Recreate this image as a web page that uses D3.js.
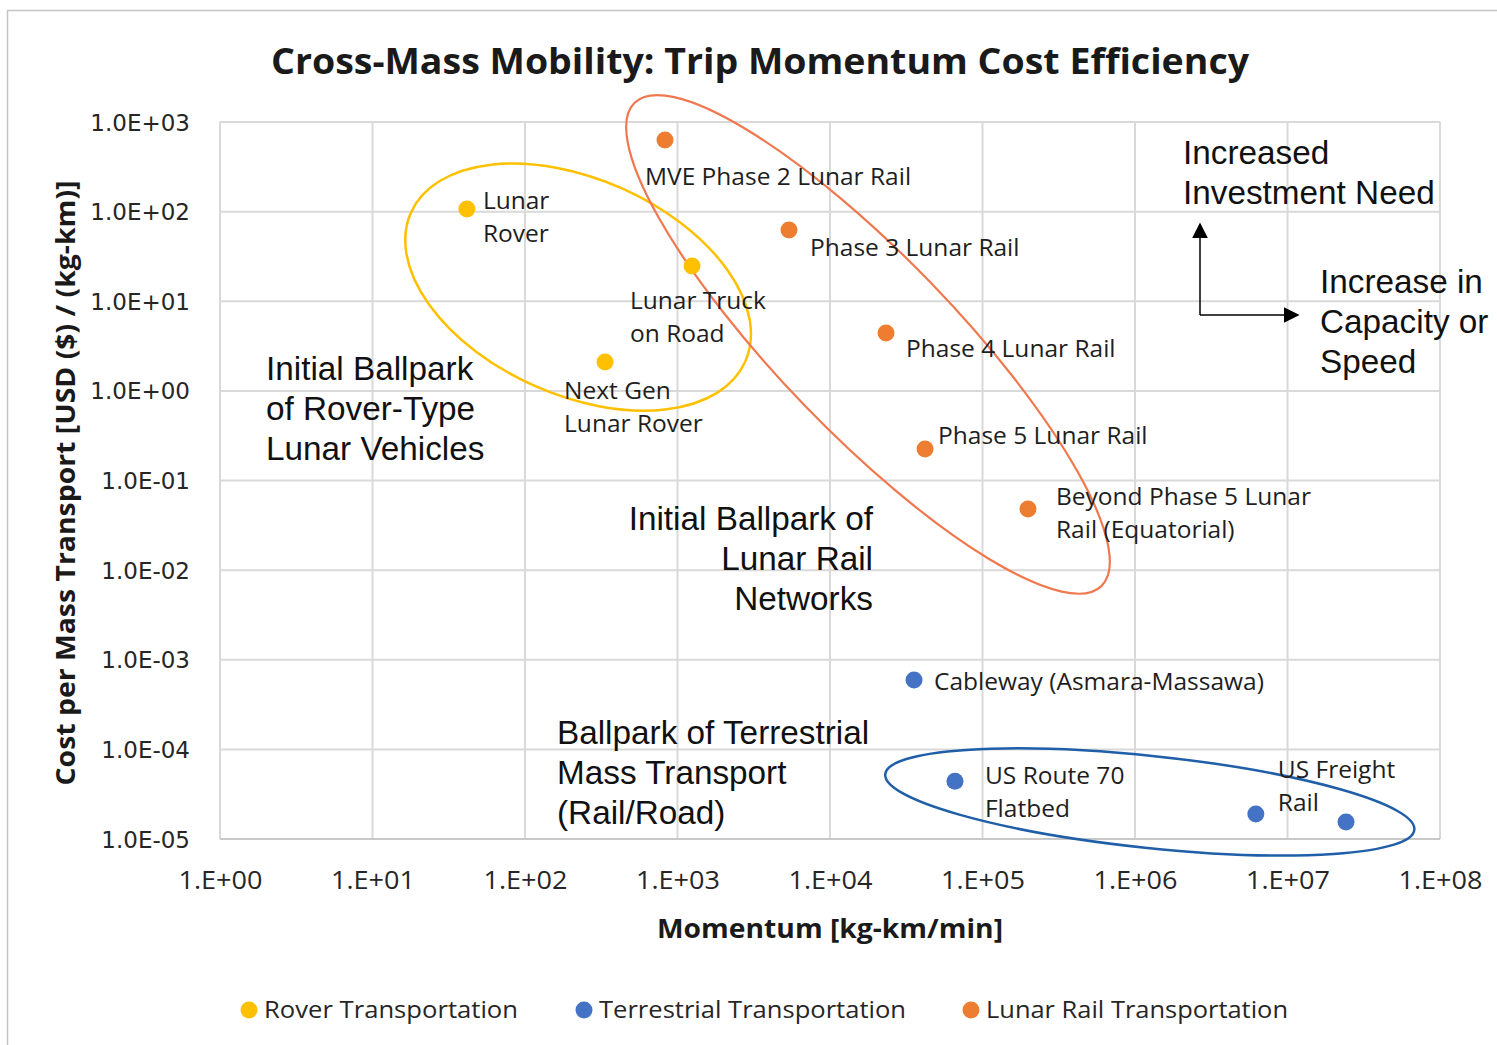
<!DOCTYPE html>
<html>
<head>
<meta charset="utf-8">
<script src="https://cdn.jsdelivr.net/npm/d3@7"></script>
<style>
  html, body { margin: 0; padding: 0; background: #ffffff; }
  svg { display: block; }
</style>
</head>
<body>
<script>
// ---------------- DATA ----------------
const roverNames = ["Lunar Rover", "Lunar Truck on Road", "Next Gen Lunar Rover"];
const roverMomentum = [41.6, 1245, 335];
const roverCost = [107, 24.7, 2.1];

const terrNames = ["Cableway (Asmara-Massawa)", "US Route 70 Flatbed", "US Freight Rail", "US Freight Rail (long haul)"];
const terrMomentum = [35560, 66000, 6.2e6, 2.42e7];
const terrCost = [5.94e-4, 4.4e-5, 1.9e-5, 1.55e-5];

const railNames = ["MVE Phase 2 Lunar Rail", "Phase 3 Lunar Rail", "Phase 4 Lunar Rail", "Phase 5 Lunar Rail", "Beyond Phase 5 Lunar Rail (Equatorial)"];
const railMomentum = [828, 5385, 23300, 42000, 198700];
const railCost = [630, 62.4, 4.42, 0.224, 0.048];

const seriesNames = ["Rover Transportation", "Terrestrial Transportation", "Lunar Rail Transportation"];

const xTickValues = [1e0, 1e1, 1e2, 1e3, 1e4, 1e5, 1e6, 1e7, 1e8];
const xTickLabels = ["1.E+00", "1.E+01", "1.E+02", "1.E+03", "1.E+04", "1.E+05", "1.E+06", "1.E+07", "1.E+08"];
const yTickValues = [1e3, 1e2, 1e1, 1e0, 1e-1, 1e-2, 1e-3, 1e-4, 1e-5];
const yTickLabels = ["1.0E+03", "1.0E+02", "1.0E+01", "1.0E+00", "1.0E-01", "1.0E-02", "1.0E-03", "1.0E-04", "1.0E-05"];

// grouping ellipse centres (data coordinates)
const groupCentreMomentum = [223, 17750, 1.25e6];
const groupCentreCost = [14.4, 3.3, 2.59e-5];

// ---------------- LAYOUT / STYLE ----------------
const W = 1497, H = 1045;
const plot = { left: 220, right: 1440, top: 122, bottom: 839 };
const colors = { rover: "#FFC000", terr: "#4472C4", rail: "#ED7D31" };
const ellipseStyle = [
  { rx: 183, ry: 108, rot: 24, stroke: "#FFC000", w: 2.5 },
  { rx: 336, ry: 88, rot: 46, stroke: "#F0784F", w: 2.2 },
  { rx: 266, ry: 46, rot: 6, stroke: "#1F5FA8", w: 2.5 }
];
// label layout: offsets (px) from the point, lines
const roverLabelLayout = [
  { dx: 16, dy: -9, lines: ["Lunar", "Rover"] },
  { dx: -62, dy: 34, lines: ["Lunar Truck", "on Road"] },
  { dx: -41, dy: 28, lines: ["Next Gen", "Lunar Rover"] }
];
const terrLabelLayout = [
  { dx: 20, dy: 1, lines: ["Cableway (Asmara-Massawa)"] },
  { dx: 30, dy: -6, lines: ["US Route 70", "Flatbed"] },
  { dx: 22, dy: -45, lines: ["US Freight", "Rail"] },
  null
];
const railLabelLayout = [
  { dx: -20, dy: 36, lines: ["MVE Phase 2 Lunar Rail"] },
  { dx: 21, dy: 17, lines: ["Phase 3 Lunar Rail"] },
  { dx: 20, dy: 15, lines: ["Phase 4 Lunar Rail"] },
  { dx: 13, dy: -14, lines: ["Phase 5 Lunar Rail"] },
  { dx: 28, dy: -13, lines: ["Beyond Phase 5 Lunar", "Rail (Equatorial)"] }
];

const svg = d3.select("body").append("svg").attr("width", W).attr("height", H);

// outer chart border
svg.append("path")
  .attr("d", `M7.5,${H} L7.5,10.5 L${W},10.5`)
  .attr("fill", "none").attr("stroke", "#c4c4c4").attr("stroke-width", 1.5);

const x = d3.scaleLog().domain([1e0, 1e8]).range([plot.left, plot.right]);
const y = d3.scaleLog().domain([1e-5, 1e3]).range([plot.bottom, plot.top]);

// gridlines
const grid = svg.append("g");
grid.selectAll("line.v").data(xTickValues).join("line")
  .attr("x1", d => x(d)).attr("x2", d => x(d))
  .attr("y1", plot.top).attr("y2", plot.bottom)
  .attr("stroke", "#d9d9d9").attr("stroke-width", 2);
grid.selectAll("line.h").data(yTickValues).join("line")
  .attr("y1", d => y(d)).attr("y2", d => y(d))
  .attr("x1", plot.left).attr("x2", plot.right)
  .attr("stroke", "#d9d9d9").attr("stroke-width", 2);
grid.append("line").attr("x1", plot.left).attr("x2", plot.right)
  .attr("y1", plot.bottom).attr("y2", plot.bottom)
  .attr("stroke", "#c8c8c8").attr("stroke-width", 2);

// axes (labels only, via d3 axes)
const xAxis = d3.axisBottom(x).tickValues(xTickValues)
  .tickFormat((d, i) => xTickLabels[i]).tickSize(0).tickPadding(0);
const gx = svg.append("g").attr("transform", `translate(0,${plot.bottom + 42})`).call(xAxis);
gx.select(".domain").remove();
gx.selectAll("text").attr("font-family", "'Open Sans', sans-serif").attr("font-size", 26)
  .attr("fill", "#262626").attr("dy", "0.32em").attr("y", 0)
  .attr("textLength", 84).attr("lengthAdjust", "spacingAndGlyphs");

const yAxis = d3.axisLeft(y).tickValues(yTickValues)
  .tickFormat((d, i) => yTickLabels[i]).tickSize(0).tickPadding(0);
const gy = svg.append("g").attr("transform", `translate(190,0)`).call(yAxis);
gy.select(".domain").remove();
gy.selectAll("text").attr("font-family", "'DejaVu Sans', sans-serif").attr("font-size", 23)
  .attr("fill", "#262626").attr("dy", "0.35em").attr("x", 0);

// title
svg.append("text").attr("x", 760).attr("y", 74).attr("text-anchor", "middle")
  .attr("font-family", "'Open Sans', sans-serif").attr("font-weight", "bold").attr("font-size", 36)
  .attr("fill", "#1a1a1a").attr("textLength", 978).attr("lengthAdjust", "spacingAndGlyphs")
  .text("Cross-Mass Mobility: Trip Momentum Cost Efficiency");

// axis titles
svg.append("text").attr("x", 830).attr("y", 938).attr("text-anchor", "middle")
  .attr("font-family", "'Open Sans', sans-serif").attr("font-weight", "bold").attr("font-size", 27)
  .attr("fill", "#1a1a1a").attr("textLength", 346).attr("lengthAdjust", "spacingAndGlyphs")
  .text("Momentum [kg-km/min]");
svg.append("text").attr("transform", "translate(75,483) rotate(-90)").attr("text-anchor", "middle")
  .attr("font-family", "'Open Sans', sans-serif").attr("font-weight", "bold").attr("font-size", 27)
  .attr("fill", "#1a1a1a").attr("textLength", 605).attr("lengthAdjust", "spacingAndGlyphs")
  .text("Cost per Mass Transport [USD ($) / (kg-km)]");

// grouping ellipses
const ellG = svg.append("g");
ellipseStyle.forEach((s, i) => {
  ellG.append("ellipse")
    .attr("transform", `translate(${x(groupCentreMomentum[i])},${y(groupCentreCost[i])}) rotate(${s.rot})`)
    .attr("rx", s.rx).attr("ry", s.ry)
    .attr("fill", "none").attr("stroke", s.stroke).attr("stroke-width", s.w);
});

// points and labels
function drawSeries(names, xs, ys, color, layout) {
  const data = names.map((n, i) => ({ name: n, m: xs[i], c: ys[i], lab: layout[i] }));
  const g = svg.append("g");
  g.selectAll("circle").data(data).join("circle")
    .attr("cx", d => x(d.m)).attr("cy", d => y(d.c)).attr("r", 8.5)
    .attr("fill", color);
  data.forEach(d => {
    if (!d.lab) return;
    const t = g.append("text")
      .attr("font-family", "'Open Sans', sans-serif").attr("font-size", 24.5)
      .attr("fill", "#1e1e1e");
    d.lab.lines.forEach((ln, k) => {
      t.append("tspan").attr("x", x(d.m) + d.lab.dx)
        .attr("y", y(d.c) + d.lab.dy + k * 33).attr("dy", "0.35em").text(ln);
    });
  });
}
drawSeries(roverNames, roverMomentum, roverCost, colors.rover, roverLabelLayout);
drawSeries(terrNames, terrMomentum, terrCost, colors.terr, terrLabelLayout);
drawSeries(railNames, railMomentum, railCost, colors.rail, railLabelLayout);

// annotation text blocks
function block(lines, px, py, anchor, size) {
  const t = svg.append("text").attr("font-family", "'Liberation Sans', Arial, sans-serif")
    .attr("font-size", size).attr("fill", "#111").attr("text-anchor", anchor);
  lines.forEach((ln, k) => t.append("tspan").attr("x", px).attr("y", py + k * 40).attr("dy", "0.35em").text(ln));
}
block(["Initial Ballpark", "of Rover-Type", "Lunar Vehicles"], 266, 368, "start", 33.3);
block(["Initial Ballpark of", "Lunar Rail", "Networks"], 873, 518, "end", 33.3);
block(["Ballpark of Terrestrial", "Mass Transport", "(Rail/Road)"], 557, 732, "start", 33.3);
block(["Increased", "Investment Need"], 1183, 152, "start", 33.3);
block(["Increase in", "Capacity or", "Speed"], 1320, 281, "start", 33.3);

// direction arrows
const defs = svg.append("defs");
defs.append("marker").attr("id", "ah").attr("viewBox", "0 0 10 10").attr("refX", 9).attr("refY", 5)
  .attr("markerWidth", 16).attr("markerHeight", 16).attr("markerUnits", "userSpaceOnUse")
  .attr("orient", "auto")
  .append("path").attr("d", "M0,0 L10,5 L0,10 Z").attr("fill", "#000");
svg.append("path").attr("d", "M1200,315 L1200,224").attr("stroke", "#000").attr("stroke-width", 1.5)
  .attr("fill", "none").attr("marker-end", "url(#ah)");
svg.append("path").attr("d", "M1200,315 L1298,315").attr("stroke", "#000").attr("stroke-width", 1.5)
  .attr("fill", "none").attr("marker-end", "url(#ah)");

// legend
const legendX = [249, 584, 971];
const legendColors = [colors.rover, colors.terr, colors.rail];
const legendW = [254, 307, 302];
const lg = svg.append("g");
seriesNames.forEach((n, i) => {
  lg.append("circle").attr("cx", legendX[i]).attr("cy", 1010).attr("r", 8.5).attr("fill", legendColors[i]);
  lg.append("text").attr("x", legendX[i] + 15).attr("y", 1010).attr("dy", "0.35em")
    .attr("font-family", "'Open Sans', sans-serif").attr("font-size", 24).attr("fill", "#262626")
    .attr("textLength", legendW[i]).attr("lengthAdjust", "spacingAndGlyphs")
    .text(n);
});
</script>
</body>
</html>
